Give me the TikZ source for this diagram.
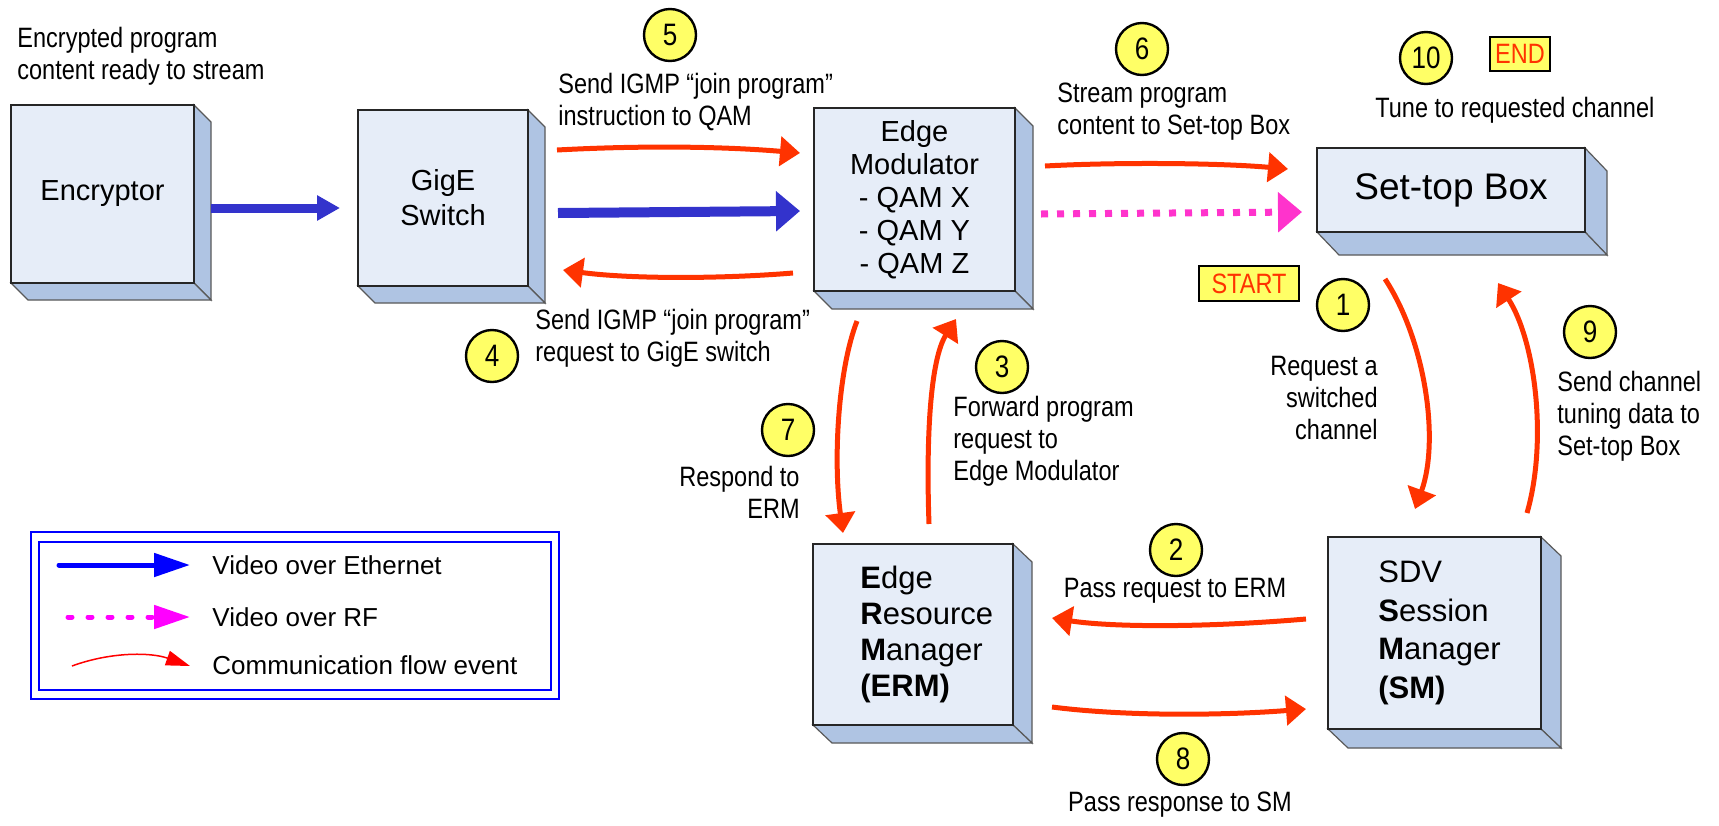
\documentclass[tikz,border=0pt]{standalone}
\usepackage{fontspec}
\setmainfont{Liberation Sans}
\newfontfamily\narrowfont[FakeStretch=0.84]{Liberation Sans}
\usetikzlibrary{arrows.meta,calc,fit,backgrounds}
\definecolor{frontc}{HTML}{E6EDF8}
\definecolor{sidec}{HTML}{AFC4E3}
\definecolor{flowred}{HTML}{FF3300}
\definecolor{ethblue}{HTML}{3333CC}
\definecolor{rfpink}{HTML}{FF33CC}
\definecolor{numyel}{HTML}{FFFF66}
\definecolor{legblue}{HTML}{0000FF}
\definecolor{legpink}{HTML}{FF00FF}
\definecolor{legred}{HTML}{FF0000}
\newcommand\boxsides[3]{%
  \begin{scope}[on background layer]
    \draw[side] (#1.north east) -- ++(#2,#3) -- ($(#1.south east)+(#2,#3)$) -- (#1.south east) -- cycle;
    \draw[side] (#1.south west) -- ++(#2,#3) -- ($(#1.south east)+(#2,#3)$) -- (#1.south east) -- cycle;
  \end{scope}}
\begin{document}
\begin{tikzpicture}[x=0.5pt,y=-0.5pt,line join=miter,
  front/.style={draw=black!85, line width=0.75pt, fill=frontc, inner sep=0pt, outer sep=0pt},
  side/.style={draw=black!65, line width=0.6pt, fill=sidec},
  flow/.style={draw=flowred, line width=2.5pt, -{Triangle[length=10pt,width=14.5pt]}},
  numc/.style={circle, draw=black, line width=1.2pt, fill=numyel, minimum size=26pt, inner sep=0pt,
    font=\narrowfont\fontsize{15.5}{15.5}\selectfont},
  lbl/.style={font=\narrowfont\fontsize{14}{16}\selectfont, inner sep=0pt},
  flag/.style={draw=black, line width=1.2pt, fill=numyel, text=flowred, inner sep=0pt,
    font=\narrowfont\fontsize{14}{14}\selectfont},
  legtxt/.style={font=\fontsize{13}{15}\selectfont, inner sep=0pt, anchor=west},
  legline/.style={draw=legblue, line width=1pt}]
\useasboundingbox (0,0) rectangle (1719,825);

% boxes
\node[front, fit={(11,105)(194,283)}] (enc) {};
\node[front, fit={(358,110)(528,286)}] (gige) {};
\node[front, fit={(814,108)(1015,291)}] (edge) {};
\node[front, fit={(1317,148)(1585,232)}] (stb) {};
\node[front, fit={(813,544)(1013,725)}] (erm) {};
\node[front, fit={(1328,537)(1541,729)}] (sm) {};
\boxsides{enc}{17}{17}
\boxsides{gige}{17}{17}
\boxsides{edge}{18}{18}
\boxsides{stb}{22}{23}
\boxsides{erm}{19}{18}
\boxsides{sm}{20}{19}

% box texts
\node[inner sep=0pt, font=\fontsize{14.5}{17}\selectfont] (enct) at (enc.center) {Encryptor};
\node[inner sep=0pt, align=center, font=\fontsize{14.5}{17.5}\selectfont] (gigt) at (gige.center) {GigE\\Switch};
\node[inner sep=0pt, align=center, font=\fontsize{14.5}{16.5}\selectfont] (edget) at (edge.center) {Edge\\Modulator\\- QAM X\\- QAM Y\\- QAM Z};
\node[inner sep=0pt, font=\fontsize{18.5}{20}\selectfont] (stbt) at (stb.center) {Set-top Box};
\node[inner sep=0pt, anchor=west, align=left, font=\fontsize{15.5}{18}\selectfont] (ermt) at ($(erm.west)+(47,0)$) {\textbf{E}dge\\\textbf{R}esource\\\textbf{M}anager\\\textbf{(ERM)}};
\node[inner sep=0pt, anchor=west, align=left, font=\fontsize{15.5}{19.3}\selectfont] (smt) at ($(sm.west)+(50,0)$) {SDV\\\textbf{S}ession\\\textbf{M}anager\\\textbf{(SM)}};

% labels
\node[lbl, anchor=west, align=left] (tenc) at (17,56) {Encrypted program\\content ready to stream};
\node[lbl, anchor=west, align=left] (t5) at (558,102) {Send IGMP “join program”\\instruction to QAM};
\node[lbl, anchor=west, align=left] (t4) at (535,338) {Send IGMP “join program”\\request to GigE switch};
\node[lbl, anchor=west, align=left] (t6) at (1057,112) {Stream program\\content to Set-top Box};
\node[lbl, anchor=west] (t10) at (1375,110) {Tune to requested channel};
\node[lbl, anchor=east, align=right] (t1) at (1378,398) {Request a\\switched\\channel};
\node[lbl, anchor=west, align=left] (t9) at (1557,416) {Send channel\\tuning data to\\Set-top Box};
\node[lbl, anchor=west, align=left] (t3) at (953,441) {Forward program\\request to\\Edge Modulator};
\node[lbl, anchor=east, align=right] (t7) at (800,492) {Respond to\\ERM};
\node[lbl] (t2) at (1175,591) {Pass request to ERM};
\node[lbl] (t8) at (1180,805) {Pass response to SM};

% numbered circles
\node[numc] (n1) at (1343,305) {1};
\node[numc] (n2) at (1176,550) {2};
\node[numc] (n3) at (1002,367) {3};
\node[numc] (n4) at (492,356) {4};
\node[numc] (n5) at (670,35) {5};
\node[numc] (n6) at (1142,49) {6};
\node[numc] (n7) at (788,430) {7};
\node[numc] (n8) at (1183,759) {8};
\node[numc] (n9) at (1590,332) {9};
\node[numc] (n10) at (1426,58) {10};

% START / END
\node[flag, minimum width=50pt, minimum height=17.5pt] (start) at (1249,283.5) {START};
\node[flag, minimum width=30pt, minimum height=17pt] (end) at (1520,54) {END};

% video over ethernet
\draw[draw=ethblue, line width=4.5pt, -{Triangle[length=11.5pt,width=12pt]}]
  ($(enc.east)+(17,14)$) -- ($(gige.west)+(-18,10)$);
\draw[draw=ethblue, line width=5pt, -{Triangle[length=12pt,width=19.5pt]}]
  ($(gige.east)+(30,15)$) -- ($(edge.west)+(-14,11.5)$);
% video over RF
\draw[draw=rfpink, line width=3.5pt, dash pattern=on 3.5pt off 4.5pt, -{Triangle[length=12pt,width=19.5pt]}]
  ($(edge.east)+(26,14.5)$) -- ($(stb.west)+(-15,22)$);

% communication flow events
\draw[flow] ($(gige.north east)+(29,40)$) .. controls (650,145) and (730,147) .. ($(edge.north west)+(-14,45)$);
\draw[flow] ($(edge.west)+(-21,73.5)$) .. controls (720,279) and (630,279) .. ($(gige.east)+(35,72)$);
\draw[flow] ($(edge.north east)+(30,58)$) .. controls (1120,162) and (1220,163) .. ($(stb.west)+(-29,-21)$);
\draw[flow] ($(edge.south west)+(43,30)$) .. controls (838,370) and (833,460) .. ($(erm.north west)+(30,-11)$);
\draw[flow] ($(erm.north west)+(116,-20)$) .. controls (926,440) and (930,360) .. ($(edge.south west)+(142,28)$);
\draw[flow] ($(sm.west)+(-22,-14)$) .. controls (1200,628) and (1110,627) .. ($(erm.east)+(39,-16.5)$);
\draw[flow] ($(erm.east)+(39,72.5)$) .. controls (1130,717) and (1230,715) .. ($(sm.west)+(-22,76)$);
\draw[flow] ($(stb.south west)+(68,47)$) .. controls (1425,340) and (1440,440) .. ($(sm.north west)+(87,-28)$);
\draw[flow] ($(sm.north east)+(-14,-24)$) .. controls (1548,440) and (1535,340) .. ($(stb.south east)+(-87,51)$);

% legend
\draw[legline] (31,532) rectangle (559,699);
\draw[legline] (39,542) rectangle (551,690);
\node[legtxt] (lt1) at (212,565) {Video over Ethernet};
\node[legtxt] (lt2) at (212,617) {Video over RF};
\node[legtxt] (lt3) at (212,665) {Communication flow event};
\coordinate (lb1) at (59,565);
\coordinate (lb2) at (68,617);
\coordinate (lb3) at (72,666);
\draw[draw=legblue, line width=2.5pt, line cap=round, -{Triangle[length=18pt,width=11.5pt]}]
  (lb1) -- ($(lt1.west)+(-22,0)$);
\draw[draw=legpink, line width=2.5pt, line cap=round, dash pattern=on 2pt off 8pt, -{Triangle[length=18pt,width=11.5pt]}]
  (lb2) -- ($(lt2.west)+(-22,0)$);
\draw[draw=legred, line width=0.75pt, -{Triangle[length=12pt,width=7.5pt]}]
  (lb3) .. controls (110,652) and (150,652) .. ($(lt3.west)+(-22,1)$);
\end{tikzpicture}
\end{document}
